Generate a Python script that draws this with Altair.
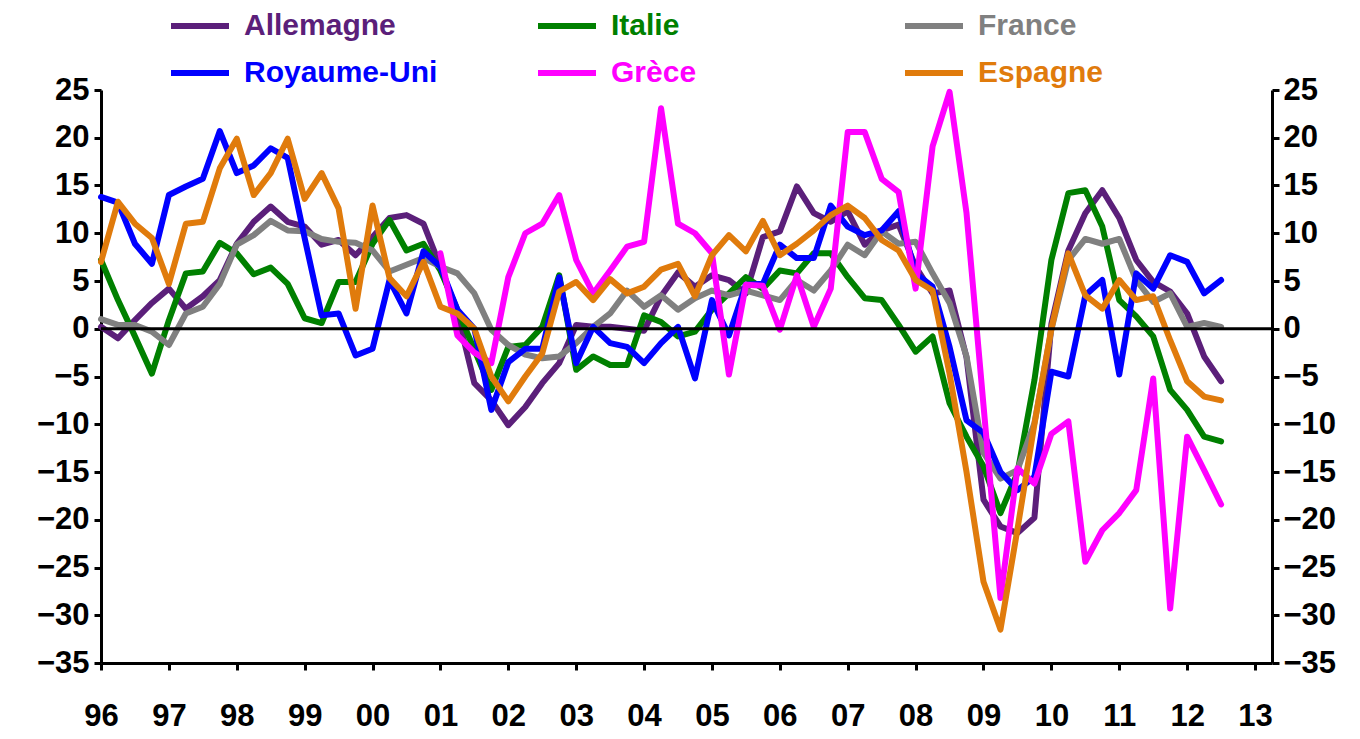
import altair as alt
import pandas as pd

start_year = 1996
names = ["Allemagne", "Italie", "France", "Royaume-Uni", "Grèce", "Espagne"]
colors = ["#5B1F7A", "#008000", "#808080", "#0000FF", "#FF00FF", "#E07B0C"]

allemagne = [0.2, -1.0, 0.9, 2.7, 4.2, 2.1, 3.4, 5.1, 8.9, 11.2, 12.8, 11.2,
             10.7, 8.8, 9.3, 7.7, 9.6, 11.6, 11.9, 11.0, 6.5, 1.6, -5.7, -7.5,
             -10.1, -8.2, -5.7, -3.6, 0.4, 0.2, 0.2, 0.0, -0.2, 3.4, 5.9, 4.4,
             5.6, 5.1, 3.7, 9.6, 10.2, 14.9, 12.1, 11.2, 12.3, 8.8, 10.3, 10.9,
             6.5, 3.7, 4.0, -3.0, -17.9, -20.7, -21.4, -19.8, 0.5, 8.2, 12.1, 14.5,
             11.6, 7.2, 4.9, 3.9, 1.6, -2.9, -5.5]
italie = [7.2, 3.0, -0.8, -4.7, 0.9, 5.8, 6.0, 9.0, 7.9, 5.7, 6.4, 4.7,
          1.1, 0.6, 4.9, 4.9, 8.9, 11.4, 8.2, 8.9, 6.1, 2.0, -2.2, -6.4,
          -1.9, -1.7, 0.2, 5.6, -4.3, -2.9, -3.8, -3.8, 1.4, 0.7, -0.8, -0.3,
          2.0, 3.7, 5.4, 4.2, 6.1, 5.8, 7.9, 7.9, 5.4, 3.2, 3.0, 0.4,
          -2.4, -0.8, -7.8, -11.3, -14.4, -19.3, -15.1, -5.4, 7.2, 14.2, 14.5, 10.7,
          3.0, 1.3, -0.8, -6.4, -8.5, -11.3, -11.8]
france = [1.0, 0.4, 0.4, -0.3, -1.7, 1.6, 2.3, 4.7, 8.8, 9.8, 11.3, 10.3,
          10.2, 9.4, 9.1, 9.0, 8.2, 6.0, 6.7, 7.4, 6.5, 5.8, 3.7, -0.1,
          -1.7, -2.7, -3.1, -2.9, -1.5, 0.2, 1.6, 4.0, 2.3, 3.5, 2.0, 3.2,
          4.0, 3.5, 4.0, 3.5, 3.0, 5.1, 4.0, 6.1, 8.8, 7.7, 10.2, 8.9,
          9.1, 5.8, 2.7, -2.9, -13.0, -15.7, -14.8, -9.9, -0.1, 7.2, 9.4, 8.9,
          9.4, 5.1, 2.8, 3.7, 0.2, 0.6, 0.2]
royaume_uni = [13.8, 13.2, 8.9, 6.8, 14.0, 14.9, 15.7, 20.7, 16.3, 17.1, 18.9, 17.9,
               9.5, 1.4, 1.6, -2.8, -2.1, 5.1, 1.6, 8.1, 6.5, 2.0, 0.0, -8.5,
               -3.5, -2.1, -2.1, 5.4, -3.6, 0.2, -1.5, -1.9, -3.6, -1.5, 0.2, -5.2,
               3.0, -0.7, 4.6, 4.7, 8.8, 7.4, 7.4, 12.9, 10.7, 9.8, 10.3, 12.3,
               5.8, 4.4, -1.9, -9.6, -10.9, -15.0, -16.9, -15.5, -4.5, -5.0, 3.5, 5.1,
               -4.8, 5.8, 4.2, 7.7, 7.0, 3.7, 5.1]
grece_first_quarter = 20  # 2001 T1
grece = [7.9, -0.7, -2.5, -3.6,
         5.4, 10.0, 11.0, 14.0, 7.2, 3.7, 6.1, 8.6, 9.1, 23.1, 11.0, 10.0,
         7.9, -4.8, 4.6, 4.5, -0.1, 5.6, 0.2, 4.2, 20.6, 20.6, 15.7, 14.3,
         4.2, 19.1, 24.8, 12.1, -8.0, -28.2, -14.6, -16.2, -11.0, -9.7, -24.4, -21.1,
         -19.3, -16.9, -5.2, -29.3, -11.3, -14.8, -18.4]
espagne = [7.0, 13.3, 11.0, 9.5, 4.7, 11.0, 11.2, 16.8, 19.9, 14.0, 16.3, 19.9,
           13.6, 16.3, 12.6, 2.1, 12.9, 5.3, 3.4, 7.0, 2.3, 1.6, 0.0, -5.0,
           -7.6, -5.0, -2.6, 3.9, 4.9, 3.0, 5.2, 3.7, 4.4, 6.2, 6.8, 3.4,
           7.7, 9.8, 8.1, 11.3, 7.7, 8.9, 10.3, 11.9, 12.9, 11.6, 9.3, 8.2,
           5.1, 4.0, -4.7, -15.0, -26.5, -31.5, -21.0, -10.0, 0.0, 7.9, 3.5, 2.1,
           5.1, 3.0, 3.4, -1.2, -5.5, -7.1, -7.5]

year_ticks = list(range(1996, 2014))
y_ticks = list(range(-35, 30, 5))

series = [
    ("Allemagne", allemagne, 0),
    ("Italie", italie, 0),
    ("France", france, 0),
    ("Royaume-Uni", royaume_uni, 0),
    ("Grèce", grece, grece_first_quarter),
    ("Espagne", espagne, 0),
]
rows = []
for name, vals, first in series:
    for k, v in enumerate(vals):
        q = first + k
        rows.append({"serie": name, "date": start_year + q / 4.0, "valeur": v})
df = pd.DataFrame(rows)

FONT = "Liberation Sans"
label_color_expr = " : ".join(
    f"datum.label == '{n}' ? '{c}'" for n, c in zip(names, colors)
) + " : 'black'"

x_scale = alt.Scale(domain=[1996, 2013.25], nice=False, zero=False)
y_scale = alt.Scale(domain=[-35, 25], nice=False, zero=False)

axis_common = dict(
    grid=False, domainColor="black", domainWidth=3, tickColor="black",
    tickWidth=3, tickSize=7, labelFont=FONT, labelFontSize=31,
    labelFontWeight="bold", labelColor="black", title=None,
)

lines = alt.Chart(df).mark_line(
    strokeWidth=6, strokeJoin="round", strokeCap="round"
).encode(
    x=alt.X("date:Q", scale=x_scale,
            axis=alt.Axis(values=year_ticks,
                          labelExpr="format(datum.value % 100, '02d')",
                          labelPadding=31, labelFlush=False, **axis_common)),
    y=alt.Y("valeur:Q", scale=y_scale,
            axis=alt.Axis(values=y_ticks, orient="left", labelPadding=5,
                          **axis_common)),
    color=alt.Color(
        "serie:N",
        scale=alt.Scale(domain=names, range=colors),
        legend=alt.Legend(
            title=None, orient="none", legendX=67, legendY=-96,
            direction="horizontal", columns=3, gridAlign="all",
            columnPadding=88, rowPadding=-4,
            symbolType="stroke", symbolSize=3364, symbolStrokeWidth=6,
            labelFont=FONT, labelFontSize=30, labelFontWeight="bold",
            labelColor=alt.ExprRef(label_color_expr), labelOffset=12,
            labelLimit=400,
        ),
    ),
)

zero = alt.Chart(pd.DataFrame({"valeur": [0]})).mark_rule(
    color="black", strokeWidth=3
).encode(
    y=alt.Y("valeur:Q", scale=y_scale,
            axis=alt.Axis(values=y_ticks, orient="right", labelPadding=4,
                          **axis_common)),
)

chart = alt.layer(lines, zero).resolve_scale(y="independent").properties(
    width=1171, height=573,
    autosize=alt.AutoSizeParams(type="none"),
    padding={"left": 93, "top": 82, "right": 80, "bottom": 68},
).configure_view(stroke=None)

chart.save("out.html", embed_options={"renderer": "svg", "actions": False})
